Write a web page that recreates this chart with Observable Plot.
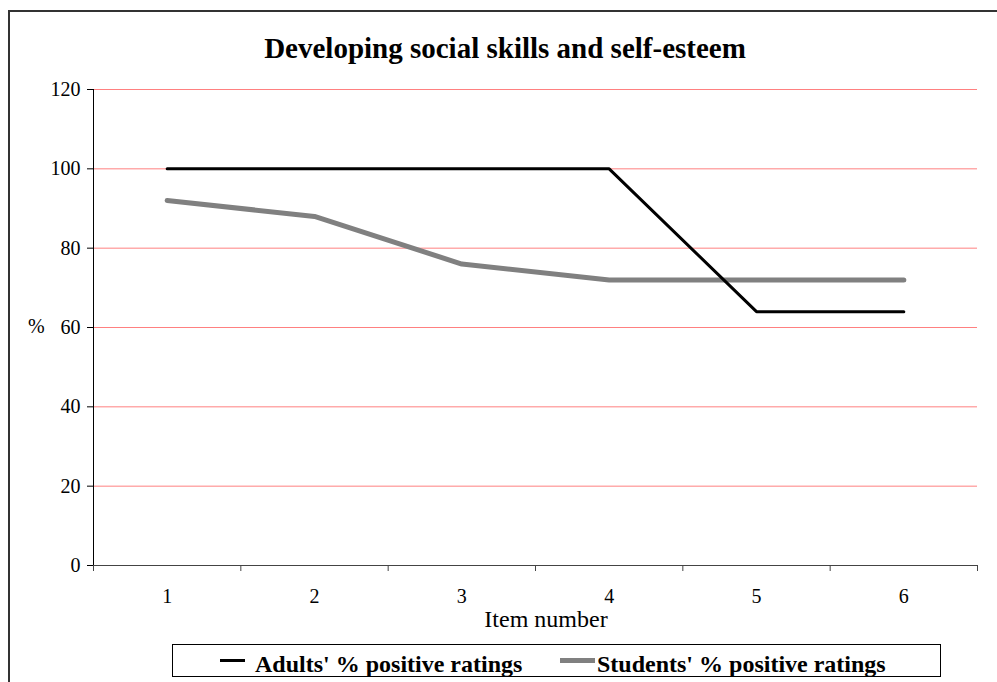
<!DOCTYPE html>
<html>
<head>
<meta charset="utf-8">
<script src="https://cdn.jsdelivr.net/npm/d3@7"></script>
<script src="https://cdn.jsdelivr.net/npm/@observablehq/plot@0.6"></script>
<style>
  html, body { margin: 0; padding: 0; background: #fff; }
  #wrap { position: relative; width: 997px; height: 682px; overflow: hidden; font-family: "Liberation Serif", "Times New Roman", serif; }
  #wrap svg { position: absolute; left: 0; top: 0; }
  .abs { position: absolute; white-space: nowrap; }
</style>
</head>
<body>
<div id="wrap"></div>
<script>
const chartTitle = "Developing social skills and self-esteem";
const items = [1, 2, 3, 4, 5, 6];
const adults = [100, 100, 100, 100, 64, 64];
const students = [92, 88, 76, 72, 72, 72];
const yTicks = [0, 20, 40, 60, 80, 100, 120];
const seriesNames = ["Adults' % positive ratings", "Students' % positive ratings"];
const xLabel = "Item number";
const yLabel = "%";

const xBounds = [items[0] - 0.5, ...items.map(d => d + 0.5)];
const adultsData = items.map((d, i) => ({item: d, v: adults[i], s: seriesNames[0]}));
const studentsData = items.map((d, i) => ({item: d, v: students[i], s: seriesNames[1]}));

const plot = Plot.plot({
  width: 997,
  height: 682,
  marginLeft: 93,
  marginRight: 20,
  marginTop: 89,
  marginBottom: 117,
  style: {fontFamily: "'Liberation Serif', 'Times New Roman', serif", fontSize: "20px", color: "#000", background: "transparent", overflow: "visible"},
  x: {type: "linear", domain: [xBounds[0], xBounds[xBounds.length - 1]]},
  y: {domain: [0, 120]},
  marks: [
    Plot.ruleY(yTicks.filter(d => d > 0), {stroke: "#ff8080", strokeWidth: 1}),
    Plot.ruleY([0], {x1: xBounds[0], x2: xBounds[xBounds.length - 1], stroke: "#444", strokeWidth: 1.2}),
    Plot.ruleX([xBounds[0]], {y1: 0, y2: 120, stroke: "#000", strokeWidth: 1}),
    Plot.axisY({ticks: yTicks, tickSize: 6, tickPadding: 7, label: null, fontSize: 20}),
    Plot.axisX({ticks: xBounds, tickSize: 6, tickFormat: () => "", label: null, stroke: "#444"}),
    Plot.axisX({ticks: items, tickSize: 0, tickPadding: 23, tickFormat: d => String(d), label: null, fontSize: 20}),
    Plot.line(studentsData, {x: "item", y: "v", stroke: "#808080", strokeWidth: 5, strokeLinejoin: "miter"}),
    Plot.line(adultsData, {x: "item", y: "v", stroke: "#000", strokeWidth: 3, strokeLinejoin: "miter"})
  ]
});

const wrap = document.getElementById("wrap");
wrap.appendChild(plot);

function add(html, css) {
  const el = document.createElement("div");
  el.className = "abs";
  el.innerHTML = html;
  Object.assign(el.style, css);
  wrap.appendChild(el);
  return el;
}

// outer frame (extends beyond right/bottom edges)
add("", {left: "8px", top: "10px", width: "1100px", height: "800px", border: "2px solid #333", boxSizing: "border-box"});

// title
const t = add("", {left: "0px", top: "34px", width: "1010px", textAlign: "center", fontWeight: "bold", fontSize: "29px", lineHeight: "29px"});
t.textContent = chartTitle;

// y label
const yl = add("", {left: "28px", top: "316px", fontSize: "20px", lineHeight: "20px"});
yl.textContent = yLabel;

// x label
const xl = add("", {left: "0px", top: "607px", width: "1092px", textAlign: "center", fontSize: "24px", lineHeight: "24px"});
xl.textContent = xLabel;

// legend box
add("", {left: "172px", top: "644px", width: "769px", height: "33px", border: "1px solid #000", boxSizing: "border-box", background: "#fff"});
add("", {left: "220px", top: "659px", width: "25px", height: "3px", background: "#000"});
add("", {left: "560px", top: "658px", width: "35px", height: "5px", background: "#808080"});
const l1 = add("", {left: "255px", top: "652px", fontWeight: "bold", fontSize: "24px", lineHeight: "24px"});
l1.textContent = seriesNames[0];
const l2 = add("", {left: "597px", top: "652px", fontWeight: "bold", fontSize: "24px", lineHeight: "24px"});
l2.textContent = seriesNames[1];
</script>
</body>
</html>
